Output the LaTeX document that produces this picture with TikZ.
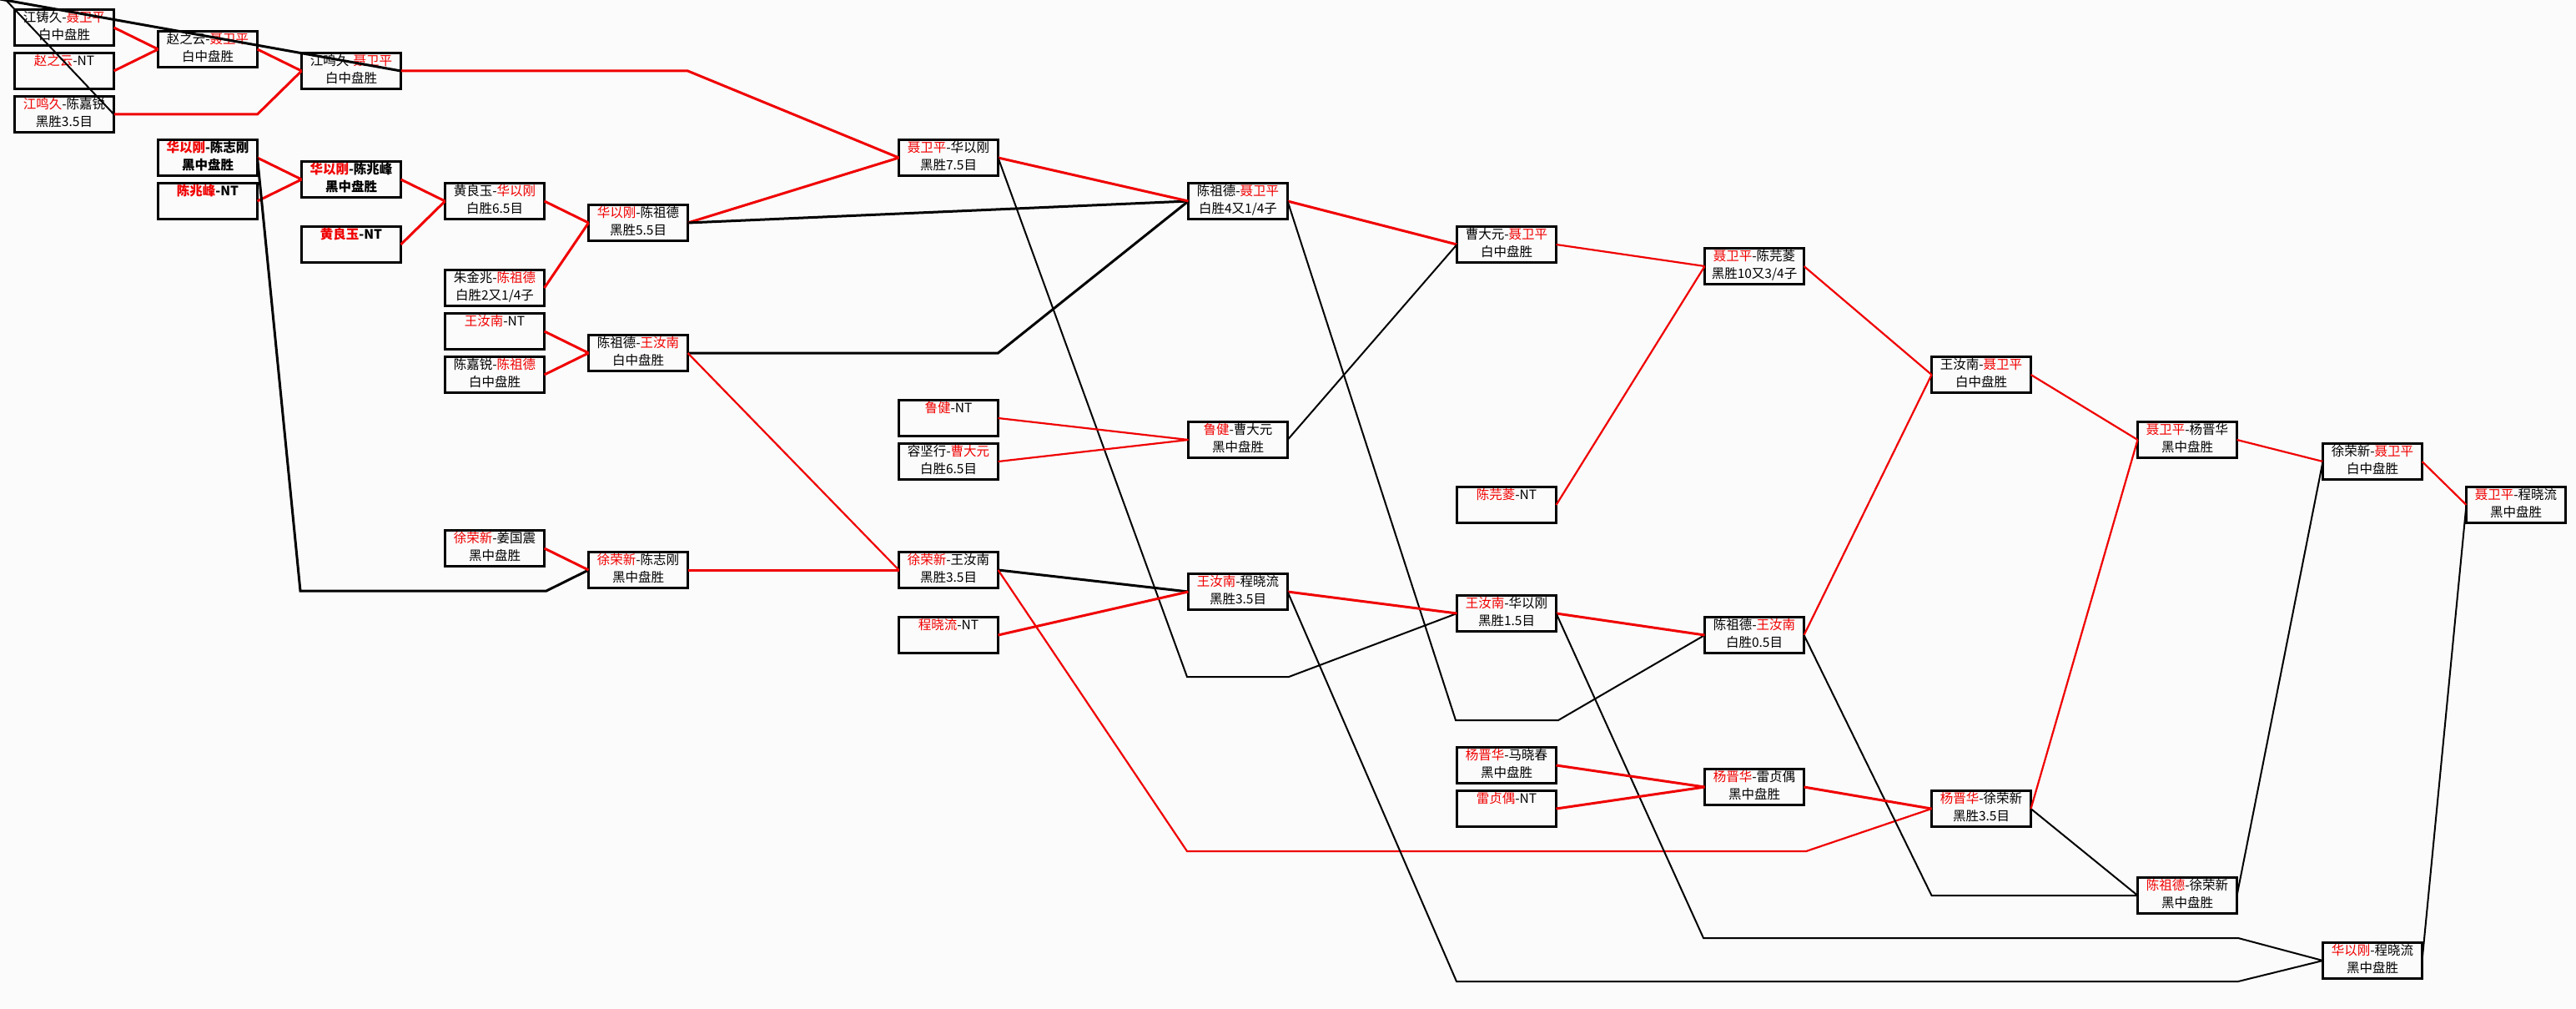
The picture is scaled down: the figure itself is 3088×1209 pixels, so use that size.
\documentclass[tikz,border=0pt]{standalone}
\usepackage{fontspec}
\setmainfont{Noto Sans CJK SC}
\definecolor{lr}{RGB}{240,0,0}
\definecolor{bgc}{RGB}{251,251,251}
\newcommand{\rn}[1]{\textcolor{lr}{#1}}
\newcommand{\gm}[5]{%
  \node[gbox] (#1) at (#2,33+26*#3) {};
  \node[gtxt] (#1a) at (#2,22.5+26*#3) {#4};
  \node[gtxt] (#1b) at (#2,44+26*#3) {#5};
}
\newcommand{\nt}[4]{%
  \node[gbox] (#1) at (#2,33+26*#3) {};
  \node[gtxt] (#1a) at (#2,22.5+26*#3) {#4};
}
\begin{document}
\begin{tikzpicture}[x=1pt,y=-1pt,
  gbox/.style={draw=black, line width=3pt, minimum width=119pt, minimum height=43pt, inner sep=0pt, outer sep=0pt},
  gtxt/.style={inner sep=0pt, text height=0.88em, text depth=0.12em, font=\fontsize{15.5pt}{18pt}\selectfont},
  rl/.style={draw=lr, line width=3pt},
  rl2/.style={draw=lr, line width=2.2pt},
  bl/.style={draw=black, line width=3pt},
  bl2/.style={draw=black, line width=2pt}]
\fill[bgc] (0,0) rectangle (3088,1209);
\useasboundingbox (0,0) rectangle (3088,1209);
% games
\gm{n1}{77}{0}{江铸久-\rn{聂卫平}}{白中盘胜}
\nt{n2}{77}{2}{\rn{赵之云}-NT}
\gm{n3}{77}{4}{\rn{江鸣久}-陈嘉锐}{黑胜3.5目}
\gm{n4}{249}{1}{赵之云-\rn{聂卫平}}{白中盘胜}
\gm{n5}{421}{2}{江鸣久-\rn{聂卫平}}{白中盘胜}
\gm{n6}{249}{6}{\bfseries\rn{华以刚}-陈志刚}{\bfseries 黑中盘胜}
\nt{n7}{249}{8}{\bfseries\rn{陈兆峰}-NT}
\gm{n8}{421}{7}{\bfseries\rn{华以刚}-陈兆峰}{\bfseries 黑中盘胜}
\nt{n9}{421}{10}{\bfseries\rn{黄良玉}-NT}
\gm{n10}{593}{8}{黄良玉-\rn{华以刚}}{白胜6.5目}
\gm{n11}{765}{9}{\rn{华以刚}-陈祖德}{黑胜5.5目}
\gm{n12}{593}{12}{朱金兆-\rn{陈祖德}}{白胜2又1/4子}
\nt{n13}{593}{14}{\rn{王汝南}-NT}
\gm{n14}{593}{16}{陈嘉锐-\rn{陈祖德}}{白中盘胜}
\gm{n15}{765}{15}{陈祖德-\rn{王汝南}}{白中盘胜}
\gm{n16}{1137}{6}{\rn{聂卫平}-华以刚}{黑胜7.5目}
\gm{n17}{1484}{8}{陈祖德-\rn{聂卫平}}{白胜4又1/4子}
\nt{n18}{1137}{18}{\rn{鲁健}-NT}
\gm{n19}{1137}{20}{容坚行-\rn{曹大元}}{白胜6.5目}
\gm{n20}{1484}{19}{\rn{鲁健}-曹大元}{黑中盘胜}
\gm{n21}{1806}{10}{曹大元-\rn{聂卫平}}{白中盘胜}
\gm{n22}{593}{24}{\rn{徐荣新}-姜国震}{黑中盘胜}
\gm{n23}{765}{25}{\rn{徐荣新}-陈志刚}{黑中盘胜}
\gm{n24}{1137}{25}{\rn{徐荣新}-王汝南}{黑胜3.5目}
\nt{n25}{1137}{28}{\rn{程晓流}-NT}
\gm{n26}{1484}{26}{\rn{王汝南}-程晓流}{黑胜3.5目}
\gm{n27}{1806}{27}{\rn{王汝南}-华以刚}{黑胜1.5目}
\gm{n28}{2103}{28}{陈祖德-\rn{王汝南}}{白胜0.5目}
\gm{n29}{1806}{34}{\rn{杨晋华}-马晓春}{黑中盘胜}
\nt{n30}{1806}{36}{\rn{雷贞偶}-NT}
\gm{n31}{2103}{35}{\rn{杨晋华}-雷贞偶}{黑中盘胜}
\gm{n32}{2375}{36}{\rn{杨晋华}-徐荣新}{黑胜3.5目}
\gm{n33}{2844}{43}{\rn{华以刚}-程晓流}{黑中盘胜}
\gm{n34}{2622}{40}{\rn{陈祖德}-徐荣新}{黑中盘胜}
\gm{n35}{2844}{20}{徐荣新-\rn{聂卫平}}{白中盘胜}
\gm{n36}{2375}{16}{王汝南-\rn{聂卫平}}{白中盘胜}
\gm{n37}{2622}{19}{\rn{聂卫平}-杨晋华}{黑中盘胜}
\gm{n38}{3016}{22}{\rn{聂卫平}-程晓流}{黑中盘胜}
\gm{n39}{2103}{11}{\rn{聂卫平}-陈芫菱}{黑胜10又3/4子}
\nt{n40}{1806}{22}{\rn{陈芫菱}-NT}
% bend coordinates
\coordinate (tl1) at (0,-1);
\coordinate (tl2) at (7,0);
\coordinate (k18a) at (360,708);
\coordinate (k18b) at (655,708);
\coordinate (k22a) at (1423,811);
\coordinate (k22b) at (1545,811);
\coordinate (k24a) at (1745,863);
\coordinate (k24b) at (1868,863);
\coordinate (k30a) at (1423,1020);
\coordinate (k30b) at (2165,1020);
\coordinate (k32a) at (1746,1176);
\coordinate (k32b) at (2683,1176);
\coordinate (k34a) at (2042,1124);
\coordinate (k34b) at (2683,1124);
% connectors
\draw[rl] (n1.east) -- (n4.west);
\draw[rl] (n2.east) -- (n4.west);
\draw[rl] (n4.east) -- (n5.west);
\draw[rl] (n3.east) -- (n3.east -| n4.east) -- (n5.west);
\draw[rl] (n5.east) -- (n5.east -| n11.east) -- (n16.west);
\draw[bl] (tl1) -- (n5.east);
\draw[bl2] (tl2) -- (n3.east);
\draw[rl] (n6.east) -- (n8.west);
\draw[rl] (n7.east) -- (n8.west);
\draw[rl] (n8.east) -- (n10.west);
\draw[rl] (n9.east) -- (n10.west);
\draw[rl] (n10.east) -- (n11.west);
\draw[rl] (n12.east) -- (n11.west);
\draw[rl] (n13.east) -- (n15.west);
\draw[rl] (n14.east) -- (n15.west);
\draw[rl] (n11.east) -- (n16.west);
\draw[bl] (n11.east) -- (n17.west);
\draw[bl] (n15.east) -- (n15.east -| n16.east) -- (n17.west);
\draw[rl2] (n15.east) -- (n24.west);
\draw[bl] (n6.east) -- (k18a) -- (k18b) -- (n23.west);
\draw[rl] (n22.east) -- (n23.west);
\draw[rl] (n23.east) -- (n24.west);
\draw[rl] (n16.east) -- (n17.west);
\draw[bl2] (n16.east) -- (k22a) -- (k22b) -- (n27.west);
\draw[rl] (n17.east) -- (n21.west);
\draw[bl2] (n17.east) -- (k24a) -- (k24b) -- (n28.west);
\draw[rl2] (n18.east) -- (n20.west);
\draw[rl2] (n19.east) -- (n20.west);
\draw[bl2] (n20.east) -- (n21.west);
\draw[bl] (n24.east) -- (n26.west);
\draw[rl] (n25.east) -- (n26.west);
\draw[rl2] (n24.east) -- (k30a) -- (k30b) -- (n32.west);
\draw[rl] (n26.east) -- (n27.west);
\draw[bl2] (n26.east) -- (k32a) -- (k32b) -- (n33.west);
\draw[rl] (n27.east) -- (n28.west);
\draw[bl2] (n27.east) -- (k34a) -- (k34b) -- (n33.west);
\draw[rl2] (n21.east) -- (n39.west);
\draw[rl2] (n40.east) -- (n39.west);
\draw[rl2] (n39.east) -- (n36.west);
\draw[rl2] (n28.east) -- (n36.west);
\draw[bl2] (n28.east) -- (n34.west -| n32.west) -- (n34.west);
\draw[rl] (n29.east) -- (n31.west);
\draw[rl] (n30.east) -- (n31.west);
\draw[rl] (n31.east) -- (n32.west);
\draw[bl2] (n32.east) -- (n34.west);
\draw[rl2] (n32.east) -- (n37.west);
\draw[rl2] (n36.east) -- (n37.west);
\draw[rl2] (n37.east) -- (n35.west);
\draw[bl2] (n34.east) -- (n35.west);
\draw[rl2] (n35.east) -- (n38.west);
\draw[bl2] (n33.east) -- (n38.west);
\end{tikzpicture}
\end{document}
